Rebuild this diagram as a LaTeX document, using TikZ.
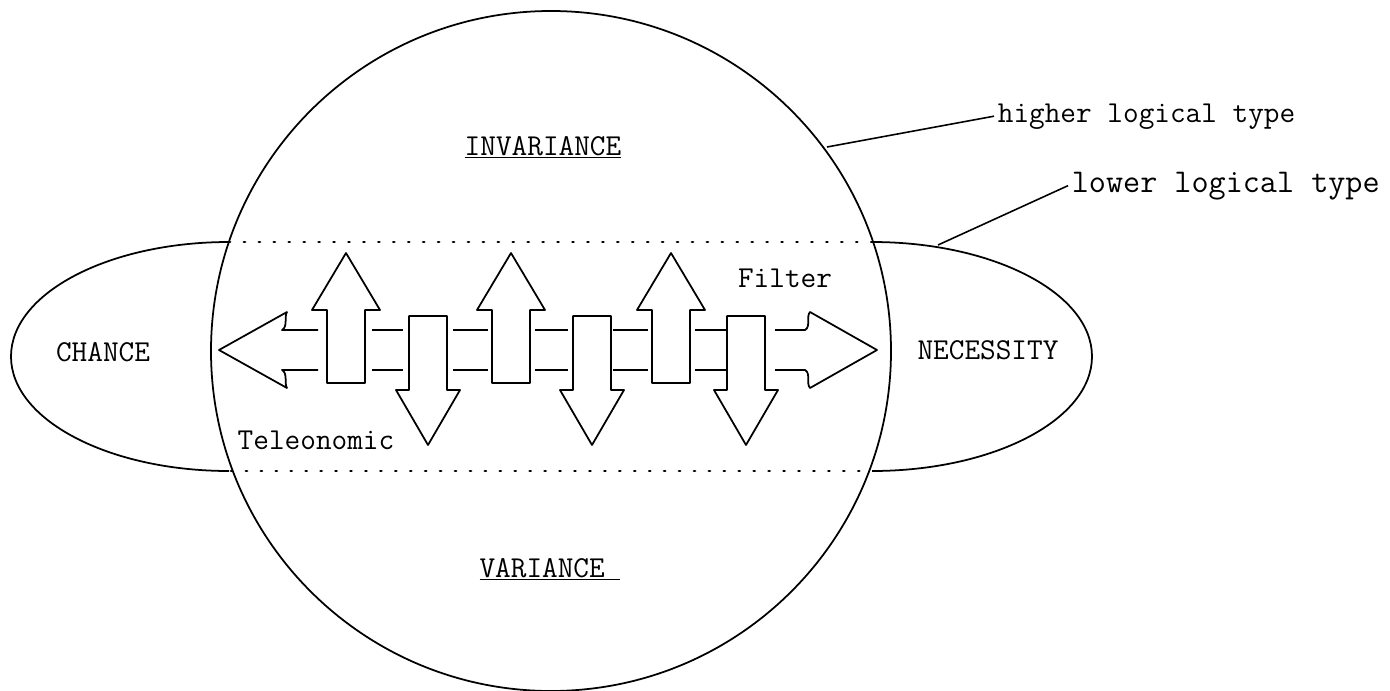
\documentclass[tikz,border=0pt]{standalone}
\usepackage{tikz}
\usetikzlibrary{calc}

\begin{document}
\begin{tikzpicture}[
  x=0.02cm, y=-0.02cm,
  typed/.style={font=\ttfamily\fontsize{17.3}{20}\selectfont, inner sep=2pt},
  outline/.style={line width=1pt, line join=round},
  rail/.style={line width=1.2pt},
  dotrule/.style={line width=1.6pt, line cap=round, dash pattern=on 0.6pt off 7.9pt},
  leader/.style={line width=0.9pt}
]
  \useasboundingbox (0,0) rectangle (1390,690);

  % Sphere and side lobes
  \draw[outline] (551,351) circle [radius=340];
  \draw[outline] (229,242) arc [start angle=270, end angle=90, x radius=218, y radius=114.5];
  \draw[outline] (872,242) arc [start angle=270, end angle=450, x radius=220, y radius=114.5];
  \draw[dotrule] (229,242) -- (872,242);
  \draw[dotrule] (231,471) -- (867,471);

  % Horizontal double arrow
  \draw[outline] (318,330) -- (282,330) .. controls (288,327) and (284,316) .. (287,312)
    -- (219,350) -- (287,388) .. controls (284,384) and (288,373) .. (282,370) -- (318,370);
  \draw[outline] (775,330) -- (805,330) .. controls (811,327) and (806,316) .. (810,312)
    -- (877,350) -- (810,388) .. controls (806,384) and (811,373) .. (805,370) -- (775,370);
  \foreach \a/\b in {372/403, 453/488, 535/568, 613/648, 695/727} {
    \draw[rail] (\a,330) -- (\b,330);
    \draw[rail] (\a,370) -- (\b,370);
  }

  % Up and down arrows
  \foreach \c in {346,511,671}
    \draw[outline, fill=white] ({\c-19},383) -- ({\c-19},310) -- ({\c-34},310) -- (\c,253)
      -- ({\c+34},310) -- ({\c+19},310) -- ({\c+19},383) -- cycle;
  \foreach \c in {428,592,746}
    \draw[outline, fill=white] ({\c-19},316) -- ({\c-19},390) -- ({\c-32},390) -- (\c,445)
      -- ({\c+32},390) -- ({\c+19},390) -- ({\c+19},316) -- cycle;

  % Labels
  \node[typed, anchor=base] (invariance) at (543,155) {\underline{INVARIANCE}};
  \node[typed, anchor=base] (variance) at (550,577) {\underline{VARIANCE\ }};
  \node[typed] (chance) at (103,352) {CHANCE};
  \node[typed] (necessity) at (988,350) {NECESSITY};
  \node[typed] (filter) at (785,278) {Filter};
  \node[typed] (teleonomic) at (316,440) {Teleonomic};
  \node[typed, anchor=base west] (higher) at (994,122) {higher logical type};
  \node[typed, font=\ttfamily\fontsize{18.9}{22}\selectfont, anchor=base west] (lower) at (1068,192) {lower logical type};

  % Leaders
  \coordinate (higherfoot) at (827,147);
  \coordinate (lowerfoot) at (938,245);
  \draw[leader] (higherfoot) -- (higher.west);
  \draw[leader] (lowerfoot) -- (lower.west);
\end{tikzpicture}
\end{document}
